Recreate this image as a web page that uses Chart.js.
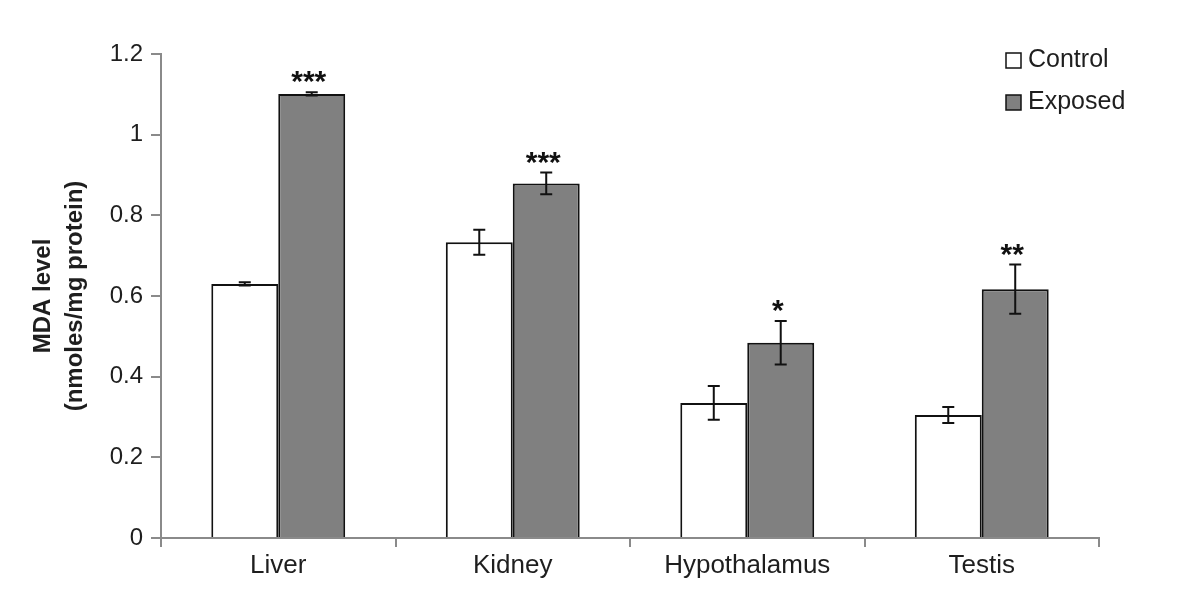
<!DOCTYPE html>
<html>
<head>
<meta charset="utf-8">
<script src="https://cdn.jsdelivr.net/npm/chart.js@4/dist/chart.umd.min.js"></script>
<style>
html,body{margin:0;padding:0;background:#fff;}
#c{display:block;}
</style>
</head>
<body>
<canvas id="c" width="1199" height="592"></canvas>
<script>
const categories = ['Liver', 'Kidney', 'Hypothalamus', 'Testis'];
const controlValues = [0.630, 0.733, 0.335, 0.305];
const controlErrors = [0.004, 0.031, 0.042, 0.020];
const exposedValues = [1.101, 0.879, 0.484, 0.617];
const exposedErrors = [0.004, 0.027, 0.054, 0.061];
const significance = ['***', '***', '*', '**'];
const seriesNames = ['Control', 'Exposed'];
const yTickValues = [0, 0.2, 0.4, 0.6, 0.8, 1, 1.2];
const yTitle = ['MDA level', '(nmoles/mg protein)'];

const FONT = "'Liberation Sans', Arial, sans-serif";
const AXIS = '#8a8a8a';
const TEXT = '#1e1e1e';
const fills = ['#ffffff', '#808080'];
const errs = [controlErrors, exposedErrors];

const overlay = {
  id: 'overlay',
  afterDatasetsDraw(chart) {
    const ctx = chart.ctx;
    const y = chart.scales.y;
    ctx.save();
    ctx.strokeStyle = '#111';
    ctx.lineWidth = 2;
    chart.data.datasets.forEach((ds, di) => {
      const meta = chart.getDatasetMeta(di);
      meta.data.forEach((bar, i) => {
        const v = ds.data[i], e = errs[di][i];
        const yt = y.getPixelForValue(v + e);
        const yb = y.getPixelForValue(v - e);
        const x = bar.x;
        ctx.beginPath();
        ctx.moveTo(x, yt); ctx.lineTo(x, yb);
        ctx.moveTo(x - 6, yt); ctx.lineTo(x + 6, yt);
        ctx.moveTo(x - 6, yb); ctx.lineTo(x + 6, yb);
        ctx.stroke();
        if (di === 1) {
          ctx.fillStyle = '#111';
          ctx.font = 'bold 30px ' + FONT;
          ctx.textAlign = 'center';
          ctx.textBaseline = 'alphabetic';
          ctx.fillText(significance[i], x - 3, yt - 1);
        }
      });
    });
    ctx.restore();
  },
  afterDraw(chart) {
    const ctx = chart.ctx;
    ctx.save();
    ctx.font = '25px ' + FONT;
    ctx.textBaseline = 'middle';
    ctx.textAlign = 'left';
    const ys = [60, 102];
    seriesNames.forEach((name, i) => {
      ctx.fillStyle = fills[i];
      ctx.fillRect(1006, ys[i] - 7, 15, 15);
      ctx.strokeStyle = '#111';
      ctx.lineWidth = 1.5;
      ctx.strokeRect(1006, ys[i] - 7, 15, 15);
      ctx.fillStyle = TEXT;
      ctx.fillText(name, 1028, ys[i]);
    });
    ctx.restore();
  }
};

new Chart(document.getElementById('c'), {
  type: 'bar',
  data: {
    labels: categories,
    datasets: [
      { label: seriesNames[0], data: controlValues, backgroundColor: fills[0], borderColor: '#111', borderWidth: 2, borderSkipped: 'bottom' },
      { label: seriesNames[1], data: exposedValues, backgroundColor: fills[1], borderColor: '#111', borderWidth: 2, borderSkipped: 'bottom' }
    ]
  },
  options: {
    responsive: false,
    animation: false,
    devicePixelRatio: 1,
    categoryPercentage: 0.571,
    barPercentage: 1.0,
    layout: { padding: { top: 54, right: 100, bottom: 0, left: 0 } },
    plugins: { legend: { display: false }, tooltip: { enabled: false } },
    scales: {
      x: {
        grid: { display: true, drawOnChartArea: false, drawTicks: true, tickLength: 9, tickColor: AXIS, lineWidth: 2, offset: true },
        border: { display: true, color: AXIS, width: 2 },
        ticks: { color: TEXT, font: { family: FONT, size: 26 }, padding: 3, maxRotation: 0 },
        afterFit(s) { s.height = 54; }
      },
      y: {
        min: 0, max: 1.2,
        afterBuildTicks(s) { s.ticks = yTickValues.map(v => ({ value: v })); },
        grid: { display: true, drawOnChartArea: false, drawTicks: true, tickLength: 10, tickColor: AXIS, lineWidth: 2 },
        border: { display: true, color: AXIS, width: 2 },
        ticks: { color: TEXT, font: { family: FONT, size: 24 }, padding: 8, callback: v => String(+Number(v).toFixed(1)) },
        title: { display: true, text: yTitle, color: TEXT, font: { family: FONT, size: 24, weight: 'bold', lineHeight: 1.33 }, padding: { top: 27, bottom: 0 } },
        afterFit(s) { s.width = 161; }
      }
    }
  },
  plugins: [overlay]
});
</script>
</body>
</html>
